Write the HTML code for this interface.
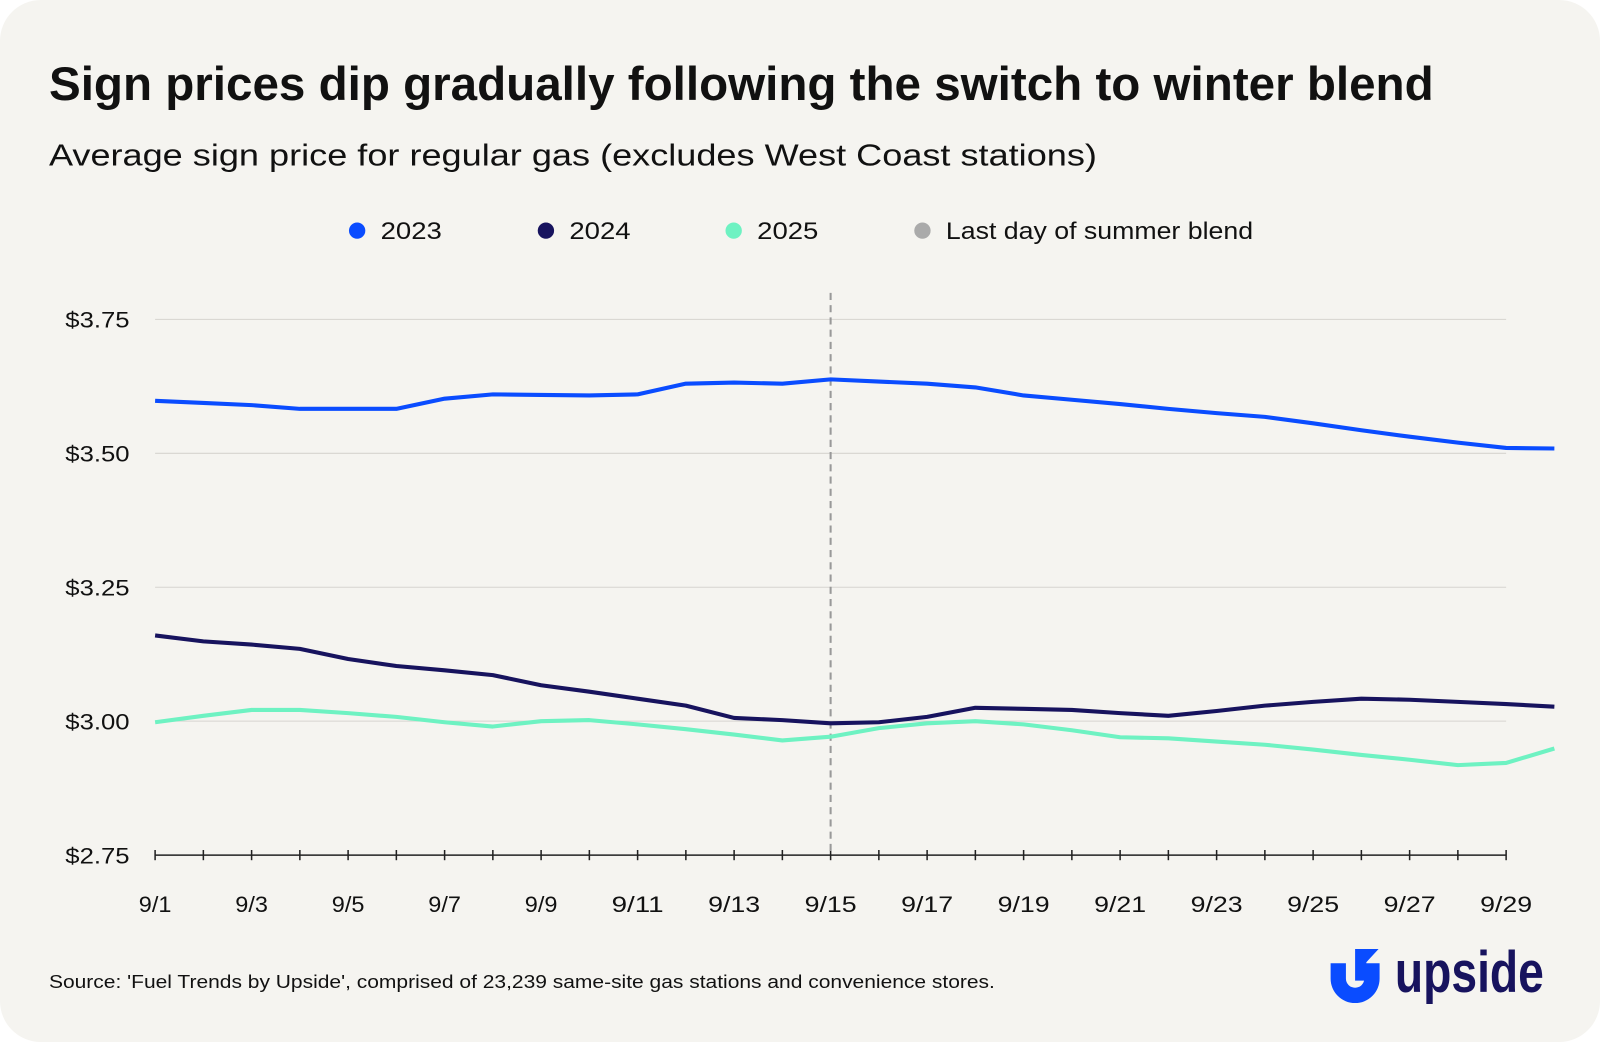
<!DOCTYPE html>
<html><head><meta charset="utf-8"><style>
html,body{margin:0;padding:0;background:#fff;overflow:hidden;}
svg{position:absolute;left:0;top:0;}
</style></head><body>
<svg id="chart" width="1600" height="1042" viewBox="0 0 1568 1021.16">
<rect x="0" y="0" width="1568" height="1021.16" rx="40" fill="#f5f4f0"/>
<text x="48" y="98" font-size="46" font-weight="bold" font-family="Liberation Sans, sans-serif" fill="#111" textLength="1357" lengthAdjust="spacingAndGlyphs">Sign prices dip gradually following the switch to winter blend</text>
<text x="48" y="162" font-size="30" font-family="Liberation Sans, sans-serif" fill="#111" textLength="1027" lengthAdjust="spacingAndGlyphs">Average sign price for regular gas (excludes West Coast stations)</text>
<text x="48" y="968" font-size="18" font-family="Liberation Sans, sans-serif" fill="#111" textLength="927" lengthAdjust="spacingAndGlyphs">Source: 'Fuel Trends by Upside', comprised of 23,239 same-site gas stations and convenience stores.</text>
<g>
<path d="M1304 944 h15 v15 a9 9 0 0 0 18 0 v-15 h15 v15 a24 24 0 0 1 -48 0 z" fill="#0a4cff"/>
<path d="M1328 930 h23 l-12 13 v18 h-11 z" fill="#0a4cff"/>
<text x="1367" y="972" font-size="57" font-weight="bold" font-family="Liberation Sans, sans-serif" fill="#17135e" textLength="146" lengthAdjust="spacingAndGlyphs">upside</text>
</g>
</svg>
<script>
const days = Array.from({length:30},(_,i)=>i+1);
const xTickLabels = ["9/1","9/3","9/5","9/7","9/9","9/11","9/13","9/15","9/17","9/19","9/21","9/23","9/25","9/27","9/29"];
const yTicks = [2.75,3.00,3.25,3.50,3.75];
const s2023 = [3.598,3.594,3.590,3.583,3.583,3.583,3.602,3.610,3.609,3.608,3.610,3.630,3.632,3.630,3.638,3.634,3.630,3.623,3.608,3.600,3.592,3.583,3.575,3.568,3.556,3.543,3.531,3.520,3.510,3.509];
const s2024 = [3.160,3.149,3.143,3.135,3.116,3.103,3.095,3.086,3.067,3.055,3.042,3.029,3.006,3.002,2.996,2.998,3.008,3.025,3.023,3.021,3.015,3.010,3.019,3.029,3.036,3.042,3.040,3.036,3.032,3.027];
const s2025 = [2.998,3.010,3.021,3.021,3.015,3.008,2.998,2.990,3.000,3.002,2.994,2.985,2.975,2.964,2.971,2.987,2.996,3.000,2.994,2.983,2.970,2.968,2.962,2.956,2.947,2.937,2.928,2.918,2.922,2.949];
const seriesNames = ["2023","2024","2025"];
const summerEndDay = 15;

const NS="http://www.w3.org/2000/svg";
const svg=document.getElementById('chart');
const x=d=>152+(d-1)*(1476-152)/28;
const y=v=>838-(v-2.75)*(838-313)/1.0;
function mk(t,a,p){const e=document.createElementNS(NS,t);for(const k in a)e.setAttribute(k,a[k]);(p||svg).appendChild(e);return e;}
const font='Liberation Sans, sans-serif';
yTicks.forEach(v=>{
  if(v>2.75){const g=mk('line',{x1:152,x2:1476,y1:y(v),y2:y(v),stroke:'#d6d4cf','stroke-width':1});
  
  }
  const t=mk('text',{x:127,y:y(v)+8,'text-anchor':'end','font-size':22,'font-family':font,fill:'#111',textLength:63,lengthAdjust:'spacingAndGlyphs'});
  t.textContent='$'+v.toFixed(2);
  
  
});
const ax=mk('line',{x1:152,x2:1476,y1:838,y2:838,stroke:'#222','stroke-width':1.5});


days.forEach(d=>{if(d<=29){const tk=mk('line',{x1:x(d),x2:x(d),y1:833,y2:843,stroke:'#222','stroke-width':1.5});

}});
xTickLabels.forEach(l=>{const d=+l.split('/')[1];
  const t=mk('text',{x:x(d),y:894,'text-anchor':'middle','font-size':22,'font-family':font,fill:'#111',textLength:(l.length===3?32:51),lengthAdjust:'spacingAndGlyphs'});
  t.textContent=l;
  
  
});
const dl=mk('line',{x1:x(summerEndDay),x2:x(summerEndDay),y1:287,y2:838,stroke:'#999','stroke-width':2,'stroke-dasharray':'7,5'});


const colors=['#0a4cff','#17135e','#6ef2c2'];
[s2023,s2024,s2025].forEach((s,i)=>{
  const p=mk('polyline',{points:s.map((v,j)=>x(days[j])+','+y(v)).join(' '),fill:'none',stroke:colors[i],'stroke-width':4,'stroke-linejoin':'round'});
  
  
});
const leg=[['2023',colors[0],350,60],['2024',colors[1],535,60],['2025',colors[2],719,60],['Last day of summer blend','#aaa',904,301]];
leg.forEach(([lab,c,lx,w])=>{
  const g=mk('g',{});
  
  
  mk('circle',{cx:lx,cy:226,r:8,fill:c},g);
  const t=mk('text',{x:lx+23,y:234,'font-size':24,'font-family':font,fill:'#111',textLength:w,lengthAdjust:'spacingAndGlyphs'},g);
  t.textContent=lab;
});
</script>
</body></html>
